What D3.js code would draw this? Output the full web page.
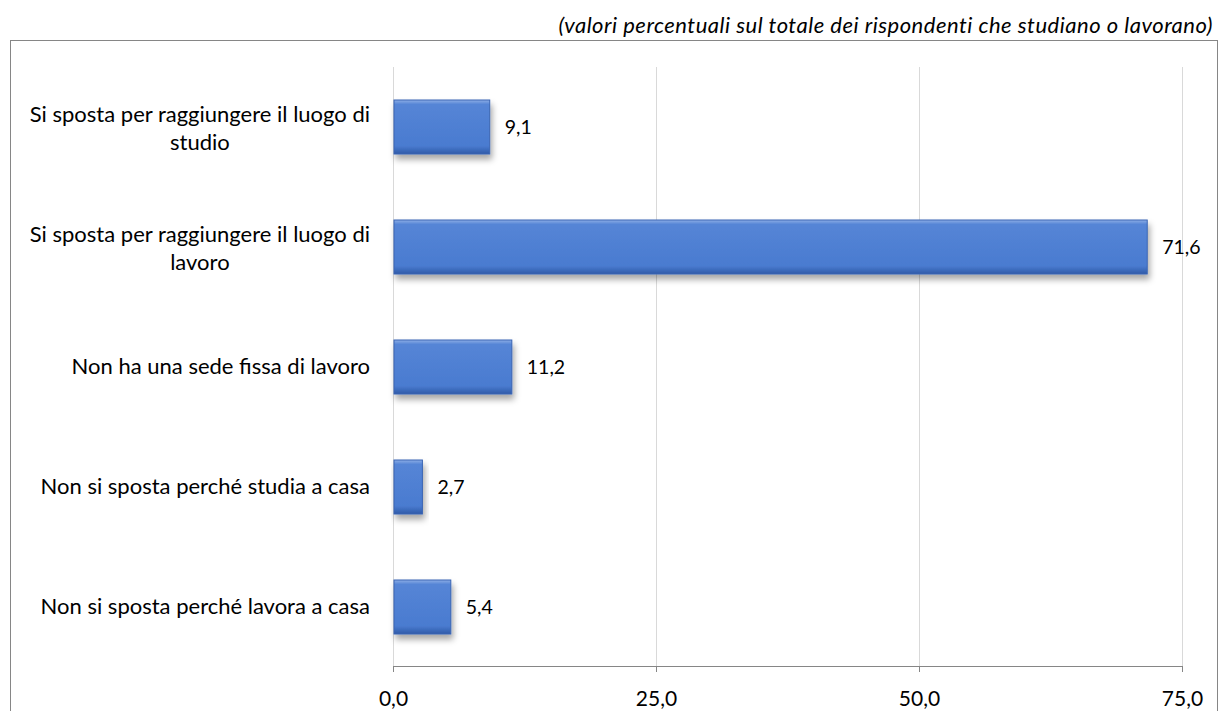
<!DOCTYPE html>
<html>
<head>
<meta charset="utf-8">
<script src="https://cdn.jsdelivr.net/npm/d3@7"></script>
<style>
  body { margin: 0; background: #fff; }
  text { font-family: Lato, "Open Sans", sans-serif; fill: #000; }
</style>
</head>
<body>
<div id="chart"></div>
<script>
var categories = [
    ["Si sposta per raggiungere il luogo di", "studio"],
    ["Si sposta per raggiungere il luogo di", "lavoro"],
    ["Non ha una sede fissa di lavoro"],
    ["Non si sposta perché studia a casa"],
    ["Non si sposta perché lavora a casa"]
];
var values = [9.1, 71.6, 11.2, 2.7, 5.4];
var ticks = [0, 25, 50, 75];
var subtitle = "(valori percentuali sul totale dei rispondenti che studiano o lavorano)";

function fmt(v) { return v.toFixed(1).replace(".", ","); }

function init() {
    var W = 1221, H = 711;
    var margin = { top: 67, left: 393, right: 39, bottom: 44 };
    var width = W - margin.left - margin.right,
        height = H - margin.top - margin.bottom;

    var svg = d3.select("#chart").append("svg")
        .attr("width", W).attr("height", H);

    var defs = svg.append("defs");
    var grad = defs.append("linearGradient").attr("id", "barGrad")
        .attr("x1", 0).attr("y1", 0).attr("x2", 0).attr("y2", 1);
    grad.append("stop").attr("offset", "0%").attr("stop-color", "#8eaee6");
    grad.append("stop").attr("offset", "8%").attr("stop-color", "#5585d6");
    grad.append("stop").attr("offset", "85%").attr("stop-color", "#4a7bd0");
    grad.append("stop").attr("offset", "100%").attr("stop-color", "#2f5ba8");

    var shadow = defs.append("filter").attr("id", "shadow")
        .attr("x", "-10%").attr("y", "-20%").attr("width", "130%").attr("height", "160%");
    shadow.append("feDropShadow").attr("dx", 2).attr("dy", 5)
        .attr("stdDeviation", 3).attr("flood-color", "#000").attr("flood-opacity", 0.35);

    // outer frame
    svg.append("rect")
        .attr("x", 10.5).attr("y", 40.5)
        .attr("width", 1207).attr("height", 680)
        .attr("fill", "none").attr("stroke", "#868686").attr("stroke-width", 1);

    svg.append("text")
        .attr("x", 1213).attr("y", 33)
        .attr("text-anchor", "end")
        .style("font-style", "italic")
        .style("font-size", "22px")
        .style("letter-spacing", "0.5px")
        .text(subtitle);

    var g = svg.append("g")
        .attr("transform", "translate(" + margin.left + "," + margin.top + ")");

    var x = d3.scaleLinear().domain([0, 75]).range([0, width]);
    var y = d3.scaleBand().domain(d3.range(categories.length))
        .range([0, height]).paddingInner(0.55).paddingOuter(0.275);

    // gridlines
    g.selectAll(".grid").data(ticks).enter().append("line")
        .attr("x1", d => Math.round(x(d)) + 0.5).attr("x2", d => Math.round(x(d)) + 0.5)
        .attr("y1", 0).attr("y2", height)
        .attr("stroke", "#d9d9d9");

    var xAxis = g.append("g")
        .attr("transform", "translate(0," + (height - 1) + ")")
        .call(d3.axisBottom(x).tickValues(ticks).tickFormat(fmt).tickSizeOuter(0).tickSize(6).tickPadding(19));
    xAxis.select(".domain").attr("stroke", "#868686");
    xAxis.selectAll(".tick line").attr("stroke", "#868686");
    xAxis.selectAll("text").style("font-size", "21px").attr("fill", "#000");

    g.selectAll(".bar").data(values).enter().append("rect")
        .attr("x", x(0) + 1)
        .attr("y", (d, i) => y(i))
        .attr("width", d => x(d) - x(0))
        .attr("height", y.bandwidth())
        .attr("fill", "url(#barGrad)")
        .attr("stroke", "#3a65b3").attr("stroke-width", 1)
        .attr("filter", "url(#shadow)");

    g.selectAll(".val").data(values).enter().append("text")
        .attr("x", d => x(d) + 16)
        .attr("y", (d, i) => y(i) + y.bandwidth() / 2)
        .attr("dy", "0.35em")
        .style("font-size", "19.5px")
        .text(fmt);

    var lab = g.selectAll(".lab").data(categories).enter().append("text")
        .attr("y", (d, i) => y(i) + y.bandwidth() / 2)
        .style("font-size", "22px");
    lab.each(function (d) {
        var t = d3.select(this), n = d.length;
        var first = t.append("tspan")
            .attr("x", -23).attr("text-anchor", "end")
            .attr("dy", n > 1 ? -5 : 7)
            .text(d[0]);
        if (n > 1) {
            var w = first.node().getComputedTextLength();
            t.append("tspan")
                .attr("x", -23 - w / 2).attr("text-anchor", "middle")
                .attr("dy", 28)
                .text(d[1]);
        }
    });
}

window.onload = init;
</script>
</body>
</html>
